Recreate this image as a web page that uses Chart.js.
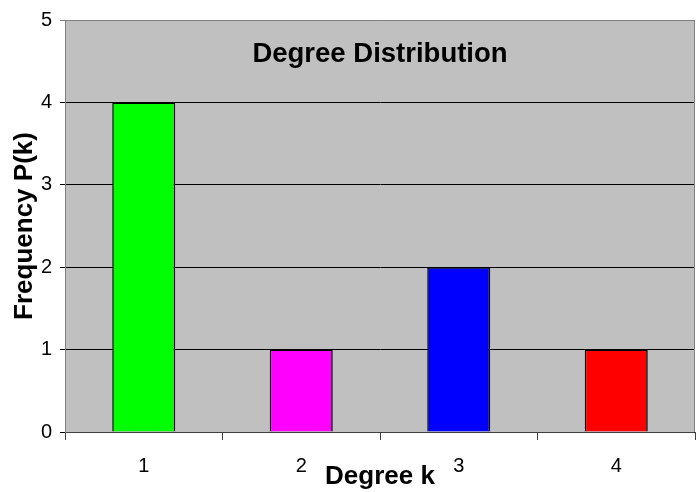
<!DOCTYPE html>
<html lang="en">
<head>
  <meta charset="UTF-8" />
  <title>Degree Distribution</title>
  <script src="https://cdn.jsdelivr.net/npm/chart.js"></script>
  <style>
    html, body { margin: 0; padding: 0; background: #fff; }
    #wrap { width: 696px; height: 492px; }
  </style>
</head>
<body>
  <div id="wrap"><canvas id="grafico"></canvas></div>
  <script>
    // dados do gráfico
    const graus = ['1', '2', '3', '4'];
    const frequencias = [4, 1, 2, 1];
    const cores = ['#00ff00', '#ff00ff', '#0000ff', '#ff0000'];
    const tituloGrafico = 'Degree Distribution';
    const tituloX = 'Degree k';
    const tituloY = 'Frequency P(k)';

    const FONTE = "Arial, 'Liberation Sans', sans-serif";

    // fundo cinza + borda + título dentro da área do gráfico
    const fundoPlot = {
      id: 'fundoPlot',
      beforeDraw(chart) {
        const { ctx, chartArea: a } = chart;
        ctx.save();
        ctx.fillStyle = '#c0c0c0';
        ctx.fillRect(a.left, a.top, a.right - a.left, a.bottom - a.top);
        ctx.restore();
      },
      afterDraw(chart) {
        const { ctx, chartArea: a } = chart;
        ctx.save();
        ctx.strokeStyle = '#808080';
        ctx.lineWidth = 1;
        ctx.beginPath();
        ctx.moveTo(a.right - 0.5, a.top);
        ctx.lineTo(a.right - 0.5, a.bottom);
        ctx.stroke();
        ctx.fillStyle = '#000';
        ctx.font = 'bold 27.5px ' + FONTE;
        ctx.textAlign = 'center';
        ctx.textBaseline = 'middle';
        ctx.fillText(tituloGrafico, (a.left + a.right) / 2, 54);
        ctx.restore();
      }
    };

    const ctx = document.getElementById('grafico').getContext('2d');
    new Chart(ctx, {
      type: 'bar',
      data: {
        labels: graus,
        datasets: [{
          data: frequencias,
          backgroundColor: cores,
          borderColor: '#000',
          borderWidth: 1.5,
          categoryPercentage: 1,
          barPercentage: 0.4
        }]
      },
      options: {
        responsive: true,
        maintainAspectRatio: false,
        animation: false,
        layout: { padding: { top: 17, right: 1, left: 0, bottom: 0 } },
        plugins: {
          legend: { display: false },
          tooltip: { enabled: false }
        },
        scales: {
          x: {
            afterFit(s) { s.height = 60; },
            grid: {
              offset: true,
              drawOnChartArea: false,
              drawTicks: true,
              tickLength: 8,
              color: '#404040'
            },
            border: { color: '#404040', width: 1 },
            ticks: {
              color: '#000',
              font: { family: FONTE, size: 20 },
              padding: 14
            },
            title: {
              display: true,
              text: tituloX,
              color: '#000',
              font: { family: FONTE, size: 26, weight: 'bold' },
              padding: { top: 0, bottom: 0 }
            }
          },
          y: {
            min: 0,
            max: 5,
            afterFit(s) { s.width = 65; },
            grid: {
              color: (c) => (c.tick && c.tick.value === 5 ? '#808080' : '#000'),
              drawTicks: true,
              tickLength: 5
            },
            border: { color: '#808080', width: 1 },
            ticks: {
              stepSize: 1,
              color: '#000',
              font: { family: FONTE, size: 20 },
              padding: 8
            },
            title: {
              display: true,
              text: tituloY,
              color: '#000',
              font: { family: FONTE, size: 26, weight: 'bold' },
              padding: { top: 9, bottom: 0 }
            }
          }
        }
      },
      plugins: [fundoPlot]
    });
  </script>
</body>
</html>
